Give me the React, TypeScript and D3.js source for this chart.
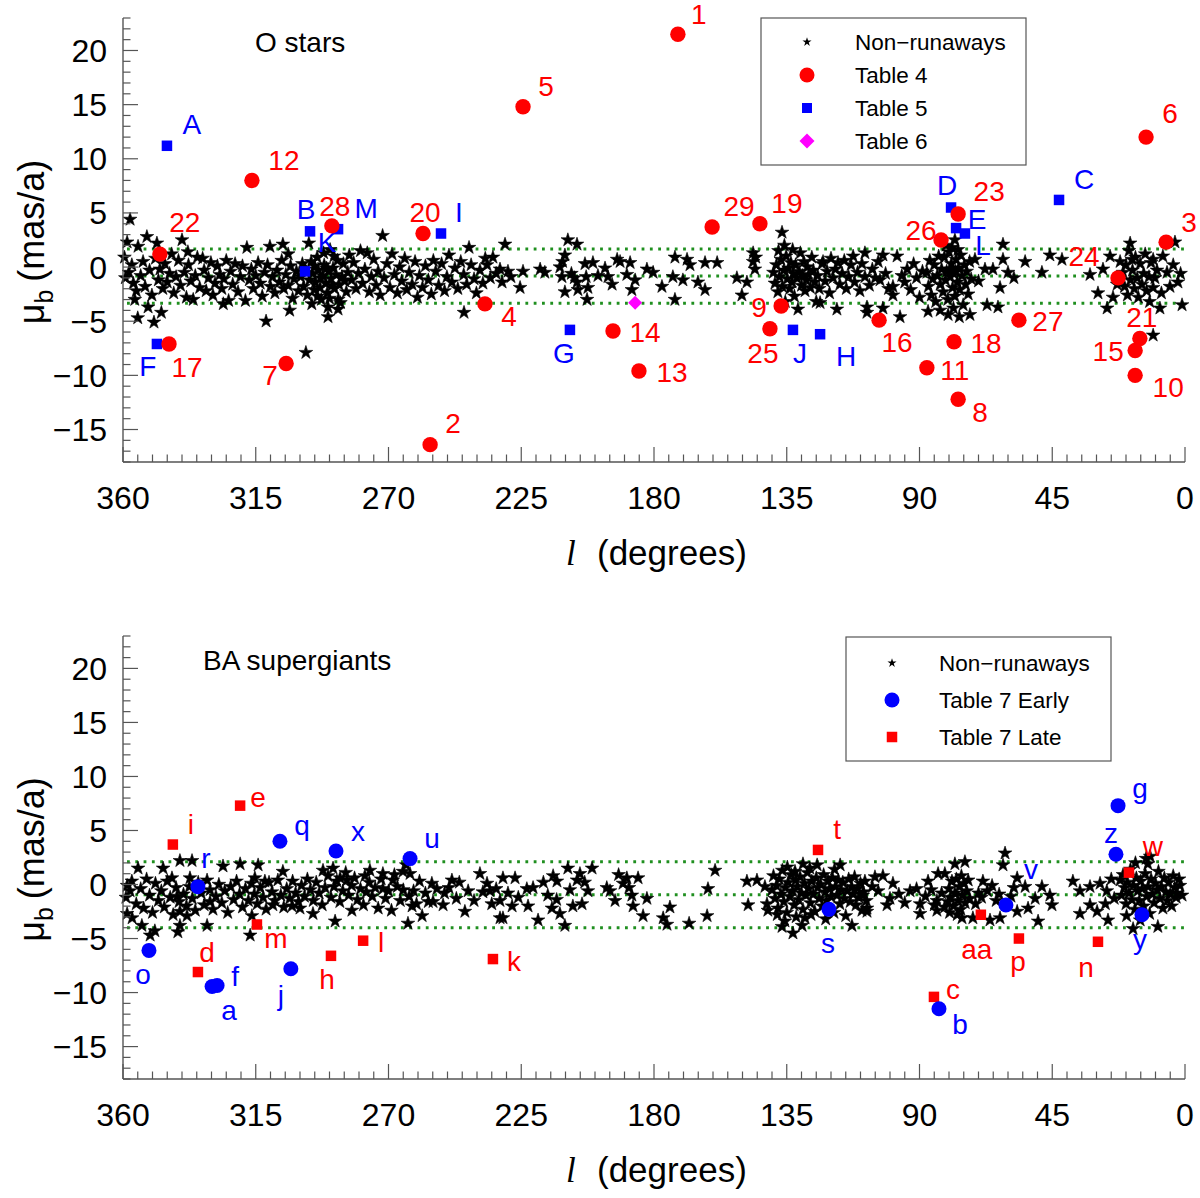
import * as d3 from 'd3';

type Pt = [number, number];
type Tag = [string, number, number];

// ---- axis ticks ----
const xTicks = [360, 315, 270, 225, 180, 135, 90, 45, 0];
const yTicks = [20, 15, 10, 5, 0, -5, -10, -15];

// ---- O stars panel ----
const oNonRunaways: Pt[] = [
    [358.6, 2.3], [357.6, 4.4], [351.9, 2.8], [354.9, 1.9], [348.5, 2.2], [355, -4.7], [349.5, -5.1], [351.5, -3.7],
    [347, -4.2], [359.2, -1.0], [358, -0.5], [357, 0.2], [356.5, -1.5], [355.5, -2.2], [354, -0.8], [353.2, 0.5],
    [352.5, -1.8], [351, -0.3], [350.2, -2.6], [349, 0.8], [348, -1.2], [347.5, -0.2], [346.5, -2.0], [345.8, 0.3],
    [345, -1.4], [344.2, -0.6], [343.5, 1.2], [342.8, -2.4], [342, -0.9], [341.2, 0.6], [340.5, -1.7], [340, 2.5],
    [338, 1.4], [359.5, 0.9], [356, -3.0],
    [339.2, -0.5], [338.5, -2.8], [337.8, 0.2], [337, -1.3], [336.2, -3.0], [335.5, -0.8], [334.8, 0.9], [334, -1.9],
    [333, 0.8], [332.5, -0.3], [331.8, -2.2], [331, -1.0], [330.2, 0.4], [329.5, -2.6], [328.8, -1.5], [328, 0.1],
    [327.2, -0.7], [326.5, -2.0], [325.8, -1.1], [325, 0.6], [324.2, -3.1], [323.5, -0.4], [322.8, -1.6], [322, 0.3],
    [321, -2.3], [320.2, -0.9], [319.5, 0.1], [318, 1.8], [318.5, -3.1], [326, -3.4],
    [317.2, -1.2], [316.5, -0.2], [315.8, -2.0], [315, -0.8], [314.2, 0.4], [313.5, -1.5], [312.8, -2.7], [312, -0.5],
    [311.5, -5.0], [311, 0.2], [310.2, 1.9], [310, -1.8], [309.3, -0.9], [308.5, -2.4], [307.8, -0.3], [307, -1.4],
    [306.2, 0.6], [305.8, 2.1], [305.5, -2.0], [304.8, -0.7], [304, -1.7], [303.2, 0.1], [302.5, -2.9], [302, -1.1],
    [301.2, -0.4], [300.5, -2.2], [304, 1.2], [298, -7.9], [303.5, -4.0],
    [299.8, -0.9], [299.2, 0.3], [298.8, -1.8], [298.2, -0.2], [297.5, -2.6], [297, 2.2], [296.8, -1.2], [296.2, 0.5],
    [295.8, -0.6], [295.2, -2.1], [294.8, -1.4], [294.2, 0.9], [293.8, -0.3], [293.2, -1.9], [292.8, -3.0], [292.3, -0.8],
    [291.8, 0.2], [291.3, -1.5], [290.8, -2.4], [290.3, -0.4], [289.8, 1.6], [289.5, -1.1], [290.5, -4.6], [288.8, -0.1],
    [288.3, -2.0], [287.8, -0.7], [287.3, 0.6], [286.8, -1.6], [286.3, -3.3], [285.8, -0.9], [285.3, 0.3], [287.1, -3.9],
    [284.8, -1.3], [284.3, -2.3], [283.8, -0.5], [283.3, 1.1], [290, -2.9], [292, 1.3], [294, -2.7], [296, -3.4],
    [287, -3.0], [288.5, 1.0], [291, -0.1], [293, -1.0], [295, 0.1], [297.8, -0.5], [289.2, -1.7], [290.5, -3.7],
    [282.5, -1.2], [281.8, 0.4], [281, -2.0], [280.2, -0.6], [279.5, 1.5], [278.8, -1.5], [278, -0.2], [277.2, 1.3],
    [276.5, -2.3], [275.8, -0.9], [275, 0.7], [274.2, -1.7], [273.5, -0.4], [272, 2.9], [272.8, -2.6], [271.5, -1.0],
    [270.5, 0.3], [269.5, -1.9], [268.8, 1.2], [268, -0.7], [267, -2.4], [266.2, 0.0], [265.5, -1.3], [264.5, 0.8],
    [263.8, -2.1], [263, -0.5], [262, -1.6], [261, 0.5], [260.2, -2.8],
    [259.5, -0.8], [258.5, -1.9], [257.5, 0.1], [256.5, -1.2], [255.5, -2.5], [254.8, 0.6], [254, -0.4], [253, -1.7],
    [252, 0.3], [251, -2.2], [250.2, -0.9], [249.5, 1.1], [248.5, -1.4], [247.5, -0.1], [246.5, -2.0], [245.5, 0.5],
    [244.4, -4.2], [244.5, -0.7], [243.5, -1.6], [242.7, 1.8], [242, 0.2], [241, -1.1], [240.2, -2.4],
    [239, -0.3], [238, -1.5], [237.2, 0.8], [236.6, 0.2], [235.5, -1.0], [234.6, 0.9], [233.5, -0.6], [232.2, -0.2],
    [231.5, -1.4], [230.5, 2.1], [229.5, -0.4], [228.5, -0.9], [225.4, -1.9], [224.4, -0.4],
    [218.6, -0.2], [217, -0.5], [209.2, 2.5], [206.1, 2.1], [210.2, 1.1], [211.9, 0.0], [211.2, -0.9], [210.2, -2.3],
    [206.1, -1.4], [205.8, -2.1], [211, 0.5], [208, -0.6], [207, -1.0],
    [202.7, -3.0], [202.4, -1.9], [203.4, 0.3], [200.7, 0.4], [196.6, -0.1], [195.6, -0.9], [192.5, 0.7], [191.5, 0.5],
    [194.2, -1.6], [189.2, -0.7], [188.1, 0.4], [186.4, -1.2], [187.5, -2.1], [182.4, -0.2], [180.3, -0.5], [177.3, -1.8],
    [199, -0.8], [203, -0.9],
    [172.9, 0.9], [173.6, -0.9], [172.9, -3.0], [170.2, -1.2], [168.8, 0.7], [167.8, 0.2], [165.1, -1.4], [162.7, 0.4],
    [162.7, -2.1], [158.6, 0.4], [151.9, -1.0], [150.2, -2.6], [148.5, -1.4], [146.4, 1.3], [146.4, 0.5], [145.8, -0.2],
    [145.5, 0.9],
    [139.5, -0.5], [139, -1.5], [138.5, 0.2], [138, -2.3], [137.5, -0.9], [137, 0.7], [136.6, 3.2], [136.5, -1.8],
    [136, -0.3], [135.5, -3.2], [135.2, 1.0], [134.8, -1.1], [134.4, -0.1], [134, -2.0], [133.6, 0.4], [133.2, -1.4],
    [132.8, -0.6], [132.4, -2.7], [132, 0.2], [131.6, -1.0], [131.2, -3.9], [130.8, -0.4], [130.4, 1.3], [130, -1.7],
    [129.6, -0.8], [129.2, 0.5], [128.8, -2.2], [128.4, -1.2], [128, 0.0], [127.6, -0.7], [127, -1.9], [126.5, 0.9],
    [126, -0.3], [125.5, -1.4], [125, -3.2], [137.8, 1.5], [135.8, 2.0], [133, 1.6],
    [124.5, -0.8], [124, -2.0], [123.7, -3.3], [123, 0.3], [122.7, 0.5], [122, -1.3], [121.3, -0.4], [120.5, -2.4],
    [120, 0.8], [119.3, -1.0], [118.5, -0.2], [118, -3.9], [117.6, 0.4], [117, -1.6], [116.2, -0.6], [115.5, 0.6],
    [114.8, -2.0], [114, -0.9], [113.2, 0.2], [112.5, 1.0], [112, -1.4], [111, -0.5], [110.2, -2.2], [109.5, 0.3],
    [108.5, 1.3], [108.5, -0.9], [107.8, -3.7], [107.8, -4.2], [107, -1.7], [106, -0.2], [105, -1.0], [104, 0.5],
    [103.4, -1.2], [102.4, 1.1], [102.4, -3.8], [101.5, -0.6], [100.5, -2.0],
    [99, -1.8], [99, -2.6], [97.6, 1.0], [96.6, -4.6], [96, -0.8], [95, -1.4], [94.2, -0.2], [93, -2.1],
    [92, 0.3], [91, -1.0], [90, -2.8], [89, -0.4],
    [87.5, -0.5], [87, -1.8], [86.5, 0.6], [86, -2.6], [85.5, -1.1], [85, 0.2], [84.5, -3.2], [84, -0.8],
    [83.5, 1.0], [83, -1.6], [82.5, -0.2], [82, -2.3], [81.6, 0.9], [81.2, -1.2], [80.8, -0.4], [80.4, -3.0],
    [80, 1.4], [79.6, -0.9], [79.2, 0.3], [78.8, -1.9], [78.4, -0.6], [78, 2.5], [78, -2.7], [77.6, 0.7],
    [77.2, -1.4], [76.8, -0.1], [76.4, -2.1], [76, 1.1], [75.6, -0.8], [75.2, -3.5], [74.8, 0.2], [74.4, -1.6],
    [74, -0.4], [73.5, -2.5], [73, 0.5], [72.5, -1.1], [87.1, -4.1], [80.3, -4.4], [72.9, -4.4], [79, 1.8],
    [77, 1.6], [81, 2.0], [83, -4.0], [78.5, -3.8], [76.5, -4.6], [79.4, -0.2], [77.8, -0.4],
    [71.2, 0.7], [70, -1.3], [67.8, -0.2], [65.1, -0.2], [61.7, 2.1], [61.7, 0.7], [60, -0.5], [62.7, -1.9],
    [67.1, -3.5], [63.4, -3.7], [58, -1.0], [54.2, 0.5], [48.5, -0.5], [45.8, 1.1], [41.7, 0.7],
    [32.2, -0.7], [29.5, -2.4], [27.8, -0.2], [26.4, -3.8], [24.4, -2.8], [25.4, 1.0], [18.6, 2.2], [18, 0.7],
    [21, -0.5], [20.5, -1.8], [20, 0.2], [19.5, -2.6], [19, 1.5], [18.5, -1.2], [17.8, -0.3], [17.2, -2.0],
    [16.8, 0.9], [16.2, -1.0], [15.8, -2.8], [15.2, 0.3], [14.6, -1.6], [14, -0.6], [13.5, 1.2], [13, -2.2],
    [12.2, -0.9], [11.5, 0.4], [10.8, 0.7], [10.2, -1.0], [10.8, -1.9], [8.5, -3.8], [9.5, -0.3], [7.5, 1.0],
    [6.1, -0.5], [5.1, -1.8], [3.4, 2.3], [2.4, -1.4], [1.0, -3.5], [10.8, -6.3], [4, 0.2], [1.5, -0.6],
    [8, -2.4], [12, -3.2], [23, -1.6], [22, 0.5],
];

const oTable4: Tag[] = [
    ['1', 171.9, 21.5], ['2', 255.9, -16.4], ['3', 6.4, 2.3], ['4', 237.3, -3.4], ['5', 224.4, 14.8],
    ['6', 13.2, 12.0], ['7', 304.7, -8.9], ['8', 76.9, -12.2], ['9', 136.9, -3.6], ['10', 16.9, -10.0],
    ['11', 87.5, -9.3], ['12', 316.3, 8.0], ['13', 185.1, -9.6], ['14', 193.9, -5.9], ['15', 16.9, -7.7],
    ['16', 103.7, -4.9], ['17', 344.4, -7.1], ['18', 78.3, -6.9], ['19', 144.1, 4.0], ['20', 258.3, 3.1],
    ['21', 15.3, -6.6], ['22', 347.5, 1.2], ['23', 76.9, 4.9], ['24', 22.7, -1.0], ['25', 140.7, -5.7],
    ['26', 82.7, 2.5], ['27', 56.3, -4.9], ['28', 289.2, 3.8], ['29', 160.3, 3.7],
];

const oTable5: Tag[] = [
    ['A', 345.1, 11.2], ['B', 296.6, 3.3], ['C', 42.7, 6.2], ['D', 79.3, 5.5], ['E', 77.6, 3.6],
    ['F', 348.5, -7.1], ['G', 208.5, -5.8], ['H', 123.7, -6.2], ['I', 252.2, 3.1], ['J', 132.9, -5.8],
    ['K', 298.3, -0.4], ['L', 74.6, 3.1], ['M', 287.1, 3.5],
];

const oTable6: Pt[] = [[186.4, -3.3]];
const oCuts = [1.67, -0.83, -3.33];

// ---- BA supergiants panel ----
const baNonRunaways: Pt[] = [
    [354.9, 1.5], [358.6, -0.1], [357.6, -0.6], [358.6, -2.7], [356.9, -3.1], [353.6, -3.8], [350.8, -4.7], [349.2, -4.3],
    [346.4, 1.5], [343.4, 0.6], [340.7, 2.2], [336.6, 2.2], [337.3, 0.6], [341.7, -1.1], [340.7, -2.5], [340.7, -3.8],
    [341.4, -4.4], [338.3, -2.9], [331.5, -3.8], [330.5, -1.6], [326.1, 1.7], [320.3, 1.9], [314.2, 1.8], [315.3, 0.6],
    [316.3, -2.9], [316.9, -4.7], [311.9, 0.3], [305.8, 1.2], [309.2, -1.9], [302.7, -2.0], [300, -2.2], [295.6, -2.7],
    [292.2, 1.3], [288.8, 1.5], [288.1, -3.4], [286.4, 0.6], [284.1, 0.4], [282.4, -2.4], [278, 0.8], [276.3, 1.3],
    [271.9, 1.0], [268.5, 0.4], [271.9, -0.4], [265.1, 1.2], [262.7, 1.0], [262, -2.0], [263.4, -3.6], [258.6, -2.9],
    [255.3, 0.1], [253.6, -0.4], [254.9, -1.6], [248.5, 0.4], [251.5, -1.9], [244.1, -2.5], [239, 1.0], [236.6, 0.1],
    [232.2, -3.1],
    [359, -1.2], [357, 0.3], [355.5, -1.8], [354, -0.4], [353, -2.2], [352, 0.5], [351, -1.0], [350, -2.6],
    [349, 0.1], [348, -1.5], [347, -0.6], [346, -2.1], [345, 0.3], [344, -1.2], [343, -2.8], [342, -0.3],
    [341, -1.6], [339.5, -0.9], [338.5, -2.0], [337.5, -0.2], [336.5, -1.3], [335.5, -2.4], [334.5, 0.2], [333.5, -0.8],
    [332.5, -1.9], [331.5, 0.4], [330.5, -0.5], [329.5, -2.3], [328.5, -1.1], [327.5, 0.0], [326.5, -1.7], [325.5, -0.6],
    [324.5, -2.6], [323.5, -0.2], [322.5, -1.4], [321.5, 0.3], [320.5, -0.9], [319.5, -2.1], [318.5, -0.4], [317.5, -1.5],
    [316.5, 0.1], [315.5, -0.9], [314.5, -1.8], [313.5, -0.3], [312.5, -1.2], [311.5, -2.3], [310.5, 0.2], [309.5, -0.7],
    [308.5, -1.5], [307.5, 0.4], [306.5, -1.0], [305.5, -2.1], [304.5, -0.4], [303.5, -1.3], [302.5, 0.3], [301.5, -0.8],
    [300.5, -1.6], [299.5, -0.1], [298.5, -1.1], [297.5, 0.5], [296.5, -0.5], [295.5, -1.5], [294.5, 0.2], [293.5, -0.8],
    [292.5, -1.9], [291.5, -0.3], [290.5, 0.8], [289.5, -1.2], [288.5, -0.2], [287.5, 0.3], [286.5, -1.6], [285.5, -0.6],
    [284.5, 1.1], [283.5, -1.0], [282.5, -0.1], [281.5, 0.6], [280.5, -1.4], [279.5, -0.4], [278.5, -1.9], [277.5, -0.7],
    [276.5, 0.2], [275.5, -1.1], [274.5, -0.3], [273.5, -2.2], [272.5, 0.5], [271, -1.3], [270, -0.6], [269, -2.4],
    [268, 0.9], [267, -0.2], [266, -1.5], [265, -0.5], [264, 1.8], [263, -1.1], [261.5, -0.6], [260.5, -1.8],
    [259.5, 0.3], [257.5, -0.8], [256.5, -1.6], [251, -0.8], [249.5, -0.3], [247, -1.3], [246, 0.2], [243, -0.6],
    [241, -1.5], [238, -0.7], [235, -1.8], [233.5, -0.4],
    [231.2, 0.6], [227.1, 0.6], [235.6, -0.6], [232.2, -1.5], [228.1, -2.0], [231.2, -3.1], [222.7, -2.0], [219.3, -3.3],
    [223.1, -0.4], [214.2, 0.8], [212.9, 0.3], [209.2, 1.5], [205.1, 1.0], [206.1, 0.4], [201, 1.5], [214.6, -2.2],
    [211.9, -2.7], [210.2, -3.8], [207.5, -2.0], [204.4, -1.8], [202.4, -0.6], [194.9, -0.6], [193.2, -1.5], [189.2, 0.6],
    [185.4, 0.6], [190.5, 0.1], [187.5, -1.0], [187.1, -2.0], [183.7, -2.9], [182.4, -1.3], [176.9, -3.1], [174.6, -2.1],
    [175.6, -3.7], [168.1, -3.6], [161.7, -0.4], [162, -2.9], [159.3, 1.3],
    [229.5, -0.8], [226, -1.2], [221, -0.3], [217.5, 0.2], [216, -1.0], [213, -1.4], [208.5, -0.5], [203.5, 0.2],
    [196, -0.3], [192, 0.9], [188.5, -0.3],
    [148.5, 0.3], [148.1, -1.9], [145.1, 0.4], [142.4, -0.2], [141.7, -1.8], [141.4, -2.4], [136.6, -3.9], [132.9, -4.5],
    [129.8, -3.8], [129.5, 1.9], [124.7, 1.8], [116.9, 1.8], [112.9, -3.8], [107.8, -2.2],
    [140, -0.5], [139.5, 0.8], [139, -1.3], [138.5, -0.1], [138, -2.2], [137.5, 0.5], [137, -0.9], [136.5, 1.3],
    [136, -1.6], [135.5, -0.3], [135, -2.6], [134.5, 0.2], [134, -1.1], [133.5, 0.9], [133, -0.6], [132.5, -1.9],
    [132, 0.4], [131.5, -0.2], [131, -1.4], [130.5, 0.7], [130, -0.8], [129.5, -2.3], [129, 0.1], [128.5, -1.0],
    [128, 1.1], [127.5, -0.4], [127, -1.7], [126.5, 0.3], [126, -0.9], [125.5, -2.5], [125, 0.6], [124.5, -0.3],
    [124, -1.3], [123.5, 0.0], [123, -2.0], [122.5, 0.9], [122, -0.7], [121.5, -1.5], [121, 0.3], [120.5, -0.4],
    [120, -1.1], [119.5, 0.6], [119, -2.6], [118.5, -0.2], [118, -1.0], [117.5, 0.4], [117, -1.8], [116.5, -0.5],
    [116, 0.2], [115.5, -1.3], [115, -2.9], [114.5, -0.6], [114, 0.5], [113.5, -1.6], [113, -0.2], [112.5, -0.9],
    [112, 0.7], [111.5, -1.9], [111, -0.4], [110.5, -1.2], [110, 0.1], [109.5, -2.4], [109, -0.7], [108.5, 0.3],
    [108, -1.5], [134.8, 1.6], [131.8, -3.0], [127.2, 1.5], [121.8, -3.2], [118.8, 1.4], [126.8, -2.8], [132.2, 1.2],
    [138.2, -2.8], [135.6, -3.4], [128.8, -3.1],
    [109.2, -1.0], [105.1, 0.7], [102.4, 0.8], [99, 0.1], [100, -1.3], [107.8, -2.5], [93.2, -0.6], [89.8, -1.8],
    [89.8, -2.7], [87.1, 0.3], [83.7, 1.0], [84.1, -1.5], [84.1, -2.4], [81.4, 1.0], [80.3, -1.6],
    [80, -0.4], [79.5, -1.2], [79, 0.3], [78.5, -2.0], [78, -0.8], [77.5, 0.5], [77, -1.5], [76.5, -0.2],
    [76, -2.3], [75.5, -1.0], [75, 0.1], [74.5, -1.7], [74, -0.6], [73.5, 0.4], [73, -1.3], [79.8, -2.6],
    [77.2, -2.8], [75.8, 0.8], [78, 1.9], [74.6, 2.1], [75.6, -3.1], [71.9, -3.1], [68.5, 0.3], [65.4, -0.1],
    [66.1, -3.3], [62.7, -3.1], [61, 2.9], [61.7, 1.8], [56.9, 0.6], [54.2, -0.2], [56.9, -2.5], [53.2, -2.2],
    [50.8, -1.3], [48.5, -0.2], [45.1, -1.9], [45.8, -1.0], [49.8, -3.4], [70, -0.8], [71, -1.8], [69, -1.2],
    [67, -0.6], [64, -1.5], [63, -0.9], [59, -1.1], [58, -0.3], [104, -0.6], [101, -1.9], [106, -0.2],
    [97, -0.9], [95, -1.7], [91, -0.4], [88, -1.1], [86, -0.5], [85, -1.9], [82.5, -0.8], [81.5, -2.1],
    [38, 0.3], [35.6, -0.6], [32.2, -0.2], [28.8, 0.1], [32.2, -1.9], [35.6, -2.7], [29.8, -2.5], [26.1, -3.3],
    [17.6, -4.1], [9.2, -3.9], [1.7, -0.1], [2.7, -0.8],
    [22, 0.4], [21.5, -1.0], [21, 0.9], [20.5, -0.3], [20, -1.8], [19.5, 0.2], [19, -0.8], [18.5, 1.4],
    [18, -1.4], [17.5, -0.1], [17, -2.3], [16.5, 0.6], [16, -0.6], [15.5, -1.5], [15, 0.3], [14.5, -0.4],
    [14, -2.0], [13.5, 1.0], [13, -1.1], [12.5, -0.2], [12, -2.7], [11.5, 0.5], [11, -0.9], [10.5, -1.7],
    [10, 0.1], [9.5, -0.5], [9, 1.2], [8.5, -1.3], [8, -0.2], [7.5, -2.2], [7, 0.6], [6.5, -0.7],
    [6, -1.5], [5.5, 0.2], [5, -0.9], [4.5, -2.0], [4, 0.8], [3.5, -0.3], [3, -1.2], [2, 0.5],
    [1, -1.0], [16.8, 2.0], [13.2, 2.4], [12.6, 1.9], [11.8, 2.6], [19.8, -2.9], [15.2, -3.3], [24, -1.3],
    [25, 0.5], [26.5, -0.6], [27, -1.8],
];

const baEarly: Tag[] = [
    ['a', 329.8, -9.44], ['f', 328.1, -9.35], ['b', 83.4, -11.5], ['g', 22.7, 7.3], ['j', 303.1, -7.8],
    ['o', 351.2, -6.1], ['q', 306.8, 4.0], ['r', 334.6, -0.2], ['s', 120.7, -2.3], ['u', 262.7, 2.4],
    ['v', 60.7, -1.9], ['x', 287.8, 3.1], ['y', 14.6, -2.8], ['z', 23.4, 2.8],
];

const baLate: Tag[] = [
    ['c', 85.1, -10.4], ['d', 334.6, -8.1], ['e', 320.3, 7.3], ['h', 289.5, -6.6], ['i', 343.1, 3.7],
    ['k', 234.6, -6.9], ['l', 278.6, -5.2], ['m', 314.6, -3.7], ['n', 29.5, -5.3], ['p', 56.3, -5.0],
    ['t', 124.4, 3.2], ['w', 19.0, 1.1], ['aa', 69.2, -2.8],
];

const baCuts = [2.1, -0.95, -4.0];

// label placement next to each marker (pixels)
const labelShift: Record<string, [number, number]> = {
    '1': [21, -20], '2': [23, -21], '3': [23, -20], '4': [24, 12], '5': [23, -21], '6': [24, -24],
    '7': [-16, 12], '8': [22, 13], '9': [-22, 1], '10': [33, 12], '11': [28, 2], '12': [32, -20],
    '13': [33, 1], '14': [32, 1], '15': [-27, 1], '16': [18, 22], '17': [18, 23], '18': [32, 1],
    '19': [27, -21], '20': [2, -21], '21': [2, -21], '22': [25, -32], '23': [31, -23], '24': [-34, -22],
    '25': [-7, 24], '26': [-20, -10], '27': [29, 1], '28': [3, -20], '29': [27, -21],
    A: [25, -22], B: [-4, -22], C: [25, -21], D: [-4, -22], E: [21, -9], F: [-9, 22], G: [-6, 23],
    H: [26, 22], I: [18, -21], J: [7, 23], K: [22, -29], L: [18, 12], M: [28, -21],
    a: [17, 24], f: [18, -9], b: [21, 15], g: [22, -17], j: [-10, 26], o: [-6, 24], q: [22, -16],
    r: [8, -28], s: [-1, 34], u: [22, -20], v: [25, -36], x: [22, -20], y: [-2, 24], z: [-5, -21],
    c: [19, -8], d: [9, -20], e: [18, -8], h: [-4, 23], i: [18, -20], k: [21, 2], l: [18, 2],
    m: [19, 14], n: [-12, 25], p: [-1, 23], t: [19, -21], w: [24, -26], aa: [-4, 34],
};

const FONT = 'Liberation Sans, Arial, Helvetica, sans-serif';
const AXIS = '#555';
const GREEN = '#1f8f1f';

const x = d3.scaleLinear().domain([360, 0]).range([123, 1185]);
const starBig = d3.symbol(d3.symbolStar, 58)() as string;
const starSmall = d3.symbol(d3.symbolStar, 26)() as string;

type Kind = 'star' | 'circle' | 'square' | 'diamond';

function Marker({ kind, color, cx, cy, s }: { kind: Kind; color: string; cx: number; cy: number; s: number }) {
    if (kind === 'circle') return <circle cx={cx} cy={cy} r={s} fill={color} />;
    if (kind === 'square') return <rect x={cx - s / 2} y={cy - s / 2} width={s} height={s} fill={color} />;
    if (kind === 'diamond')
        return <path d={`M${cx},${cy - s}L${cx + s},${cy}L${cx},${cy + s}L${cx - s},${cy}Z`} fill={color} />;
    return <path d={s > 5 ? starBig : starSmall} transform={`translate(${cx},${cy})`} fill={color} />;
}

type Layer = { tags?: Tag[]; pts?: Pt[]; kind: Kind; color: string; size: number };
type LegendRow = { label: string; kind: Kind; color: string; size: number };

function Panel(props: {
    top: number;
    bottom: number;
    title: string;
    titleX: number;
    stars: Pt[];
    cuts: number[];
    layers: Layer[];
    legend: { x0: number; y0: number; w: number; h: number; gap: number; first: number; symX: number; textX: number; rows: LegendRow[] };
}) {
    const { top, bottom, title, titleX, stars, cuts, layers, legend } = props;
    const y = d3.scaleLinear().domain([-18, 23]).range([bottom, top]);
    const x0 = x(360);
    const x1 = x(0);
    const minorX = d3.range(0, 361, 5);
    const minorY = d3.range(-18, 24, 1);
    const mid = (y(23) + y(-18)) / 2;

    return (
        <g>
            {/* dotted selection levels */}
            {cuts.map((c) => (
                <line key={c} x1={x0 + 4} x2={x1} y1={y(c)} y2={y(c)} stroke={GREEN} strokeWidth={3}
                    strokeDasharray="2.8 5.5" />
            ))}

            {/* non-runaways */}
            {stars.map((d, i) => (
                <path key={i} d={starBig} transform={`translate(${x(d[0])},${y(d[1])})`} fill="#000"
                    stroke="#000" strokeWidth={0.6} />
            ))}

            {/* runaway candidates */}
            {layers.map((ly, k) => (
                <g key={k}>
                    {(ly.pts ?? []).map((d, i) => (
                        <Marker key={i} kind={ly.kind} color={ly.color} cx={x(d[0])} cy={y(d[1])} s={ly.size} />
                    ))}
                    {(ly.tags ?? []).map((d) => (
                        <Marker key={d[0]} kind={ly.kind} color={ly.color} cx={x(d[1])} cy={y(d[2])} s={ly.size} />
                    ))}
                    {(ly.tags ?? []).map((d) => {
                        const sh = labelShift[d[0]] ?? [20, -20];
                        return (
                            <text key={'t' + d[0]} x={x(d[1]) + sh[0]} y={y(d[2]) + sh[1]} dy="0.35em"
                                textAnchor="middle" fontSize={28} fill={ly.color} fontFamily={FONT}>
                                {d[0]}
                            </text>
                        );
                    })}
                </g>
            ))}

            {/* axes */}
            <line x1={x0} x2={x0} y1={y(23)} y2={y(-18)} stroke={AXIS} strokeWidth={1.4} />
            <line x1={x0} x2={x1} y1={y(-18)} y2={y(-18)} stroke={AXIS} strokeWidth={1.4} />
            {minorY.map((v) => (
                <line key={'my' + v} x1={x0} x2={x0 + (v % 5 === 0 ? 15 : 7.5)} y1={y(v)} y2={y(v)}
                    stroke={AXIS} strokeWidth={1.2} />
            ))}
            {minorX.map((v) => (
                <line key={'mx' + v} x1={x(v)} x2={x(v)} y1={y(-18)} y2={y(-18) - (v % 45 === 0 ? 15 : 7.5)}
                    stroke={AXIS} strokeWidth={1.2} />
            ))}
            {yTicks.map((v) => (
                <text key={'yt' + v} x={x0 - 16} y={y(v)} dy="0.36em" textAnchor="end" fontSize={32}
                    fontFamily={FONT}>
                    {v < 0 ? '\u2212' + Math.abs(v) : v}
                </text>
            ))}
            {xTicks.map((v) => (
                <text key={'xt' + v} x={x(v)} y={y(-18) + 35} dy="0.36em" textAnchor="middle" fontSize={32}
                    fontFamily={FONT}>
                    {v}
                </text>
            ))}

            {/* axis titles */}
            <text x={566} y={y(-18) + 103} fontSize={35} fontFamily="Liberation Serif, serif" fontStyle="italic">
                l
            </text>
            <text x={597} y={y(-18) + 103} fontSize={35} fontFamily={FONT}>
                (degrees)
            </text>
            <text transform={`translate(44,${mid + 2}) rotate(-90)`} textAnchor="middle" fontSize={36}
                fontFamily={FONT}>
                <tspan>{'\u03bc'}</tspan>
                <tspan fontSize={25} dy={9}>b</tspan>
                <tspan dy={-9} dx={8}>{'(mas/a)'}</tspan>
            </text>

            <text x={titleX} y={top + 34} fontSize={28} fontFamily={FONT}>
                {title}
            </text>

            {/* legend */}
            <rect x={legend.x0} y={legend.y0} width={legend.w} height={legend.h} fill="#fff" stroke={AXIS}
                strokeWidth={1.2} />
            {legend.rows.map((r, i) => {
                const cy = legend.y0 + legend.first + i * legend.gap;
                return (
                    <g key={r.label}>
                        <Marker kind={r.kind} color={r.color} cx={legend.symX} cy={cy} s={r.size} />
                        <text x={legend.textX} y={cy} dy="0.36em" fontSize={22.5} fontFamily={FONT}>
                            {r.label}
                        </text>
                    </g>
                );
            })}
        </g>
    );
}

export default function App() {
    return (
        <svg width={1200} height={1198} style={{ position: 'absolute', left: 0, top: 0, background: '#fff' }}>
            <rect width={1200} height={1198} fill="#fff" />
            <Panel
                top={18}
                bottom={462}
                title="O stars"
                titleX={255}
                stars={oNonRunaways}
                cuts={oCuts}
                layers={[
                    { pts: oTable6, kind: 'diamond', color: '#ff00ff', size: 7 },
                    { tags: oTable5, kind: 'square', color: '#0000ff', size: 10.5 },
                    { tags: oTable4, kind: 'circle', color: '#ff0000', size: 7.7 },
                ]}
                legend={{
                    x0: 761, y0: 18, w: 265, h: 147, gap: 33, first: 24, symX: 807, textX: 855,
                    rows: [
                        { label: 'Non\u2212runaways', kind: 'star', color: '#000', size: 4 },
                        { label: 'Table 4', kind: 'circle', color: '#ff0000', size: 7.5 },
                        { label: 'Table 5', kind: 'square', color: '#0000ff', size: 10 },
                        { label: 'Table 6', kind: 'diamond', color: '#ff00ff', size: 7.5 },
                    ],
                }}
            />
            <Panel
                top={636}
                bottom={1079}
                title="BA supergiants"
                titleX={203}
                stars={baNonRunaways}
                cuts={baCuts}
                layers={[
                    { tags: baLate, kind: 'square', color: '#ff0000', size: 10.5 },
                    { tags: baEarly, kind: 'circle', color: '#0000ff', size: 7.5 },
                ]}
                legend={{
                    x0: 846, y0: 637, w: 265, h: 124, gap: 37, first: 26, symX: 892, textX: 939,
                    rows: [
                        { label: 'Non\u2212runaways', kind: 'star', color: '#000', size: 4 },
                        { label: 'Table 7 Early', kind: 'circle', color: '#0000ff', size: 7.5 },
                        { label: 'Table 7 Late', kind: 'square', color: '#ff0000', size: 10.5 },
                    ],
                }}
            />
        </svg>
    );
}
